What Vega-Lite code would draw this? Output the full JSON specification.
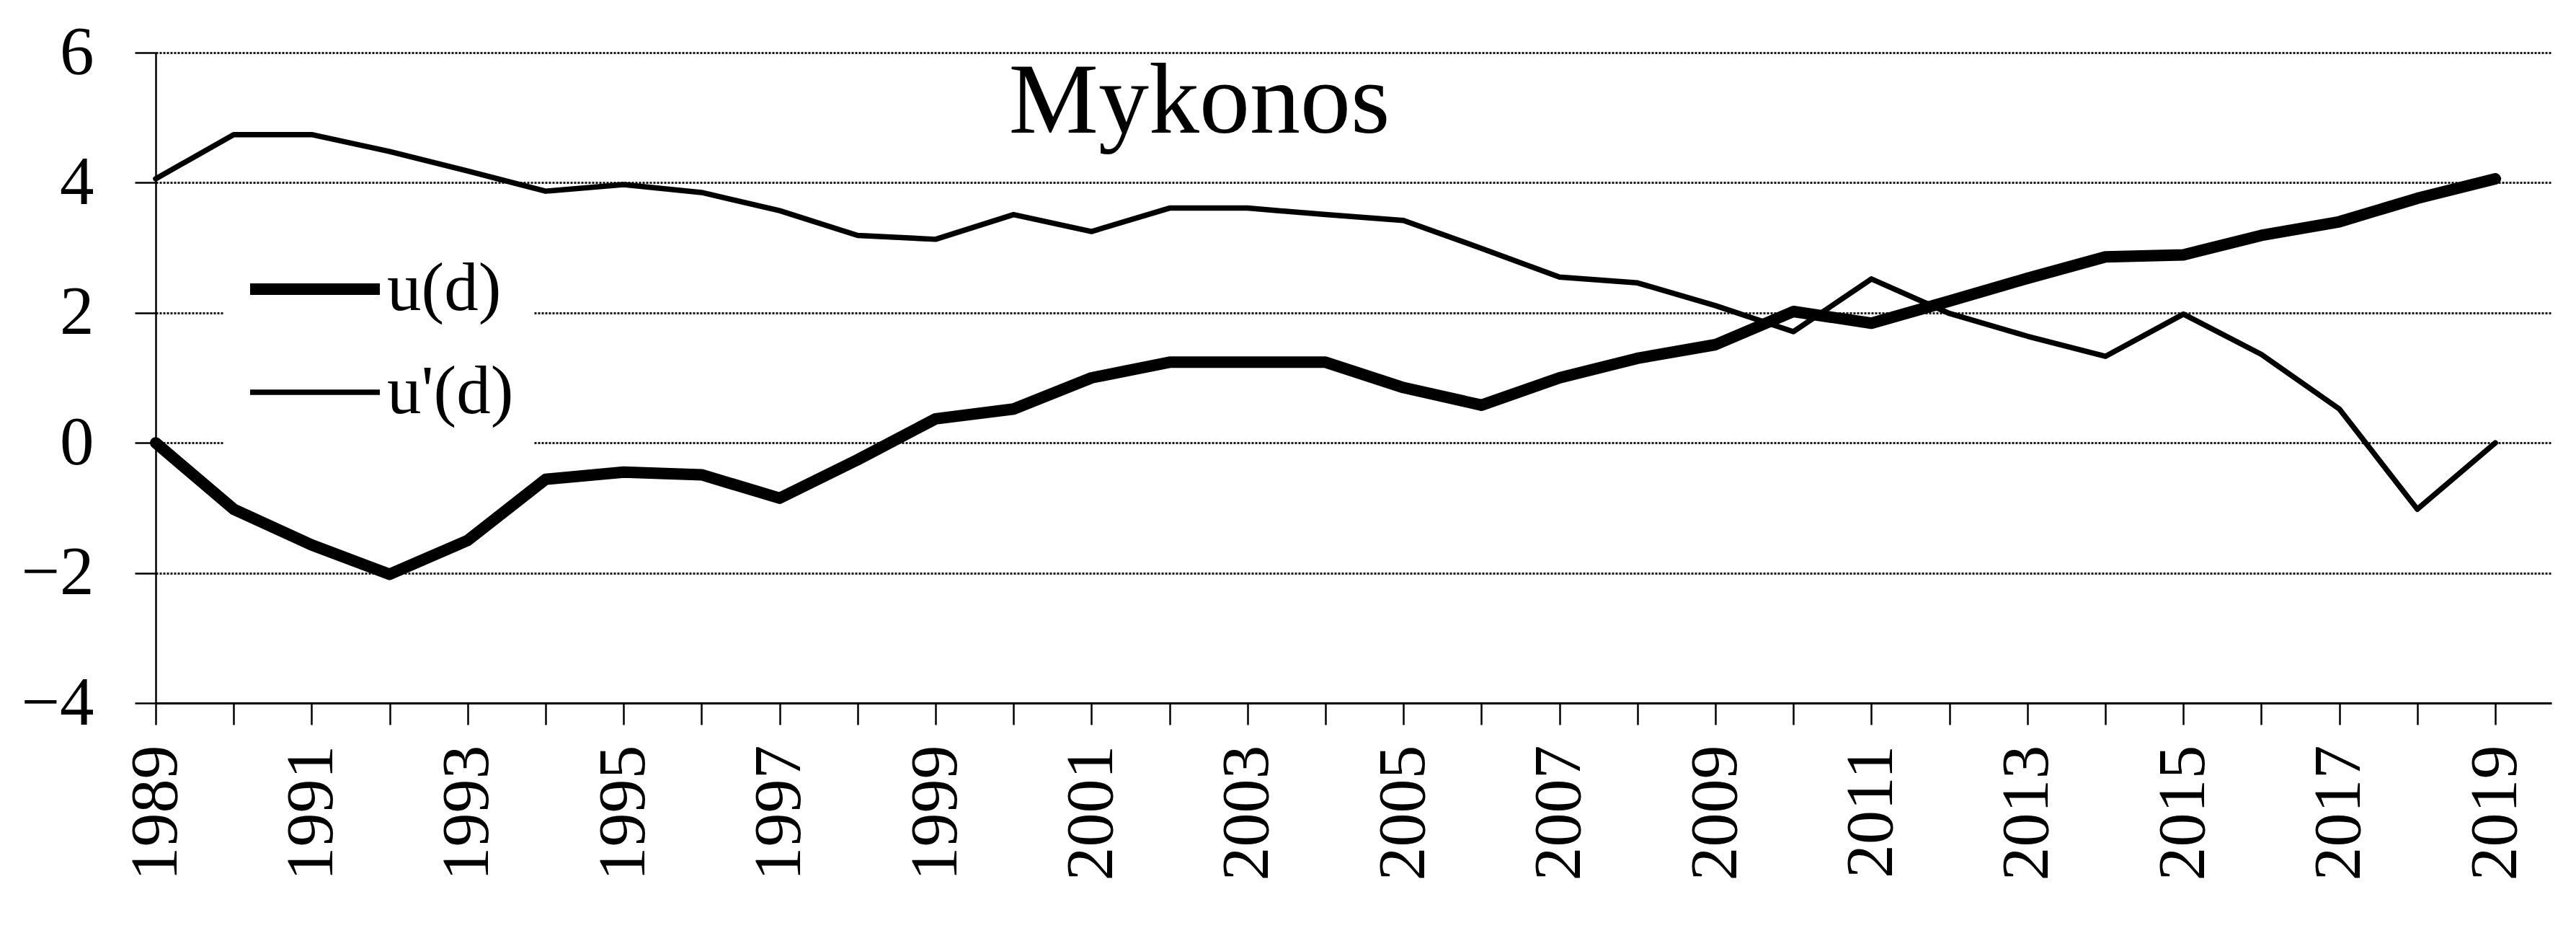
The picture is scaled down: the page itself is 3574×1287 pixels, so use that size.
{
  "$schema": "https://vega.github.io/schema/vega-lite/v6.json",
  "width": 3324,
  "height": 902,
  "autosize": {"type": "none"},
  "padding": {"left": 216, "top": 73, "right": 34, "bottom": 312},
  "background": "white",
  "title": {
    "text": "Mykonos",
    "font": "Liberation Serif",
    "fontSize": 140,
    "fontWeight": "normal",
    "color": "black",
    "anchor": "middle",
    "baseline": "alphabetic",
    "offset": 0,
    "dx": -214,
    "dy": 298
  },
  "config": {
    "view": {"stroke": null},
    "font": "Liberation Serif"
  },
  "data": {
    "values": [
      {"year": 1989, "series": "u(d)", "value": 0.0},
      {"year": 1990, "series": "u(d)", "value": -1.02},
      {"year": 1991, "series": "u(d)", "value": -1.57},
      {"year": 1992, "series": "u(d)", "value": -2.02},
      {"year": 1993, "series": "u(d)", "value": -1.5},
      {"year": 1994, "series": "u(d)", "value": -0.56},
      {"year": 1995, "series": "u(d)", "value": -0.45},
      {"year": 1996, "series": "u(d)", "value": -0.49},
      {"year": 1997, "series": "u(d)", "value": -0.85},
      {"year": 1998, "series": "u(d)", "value": -0.26},
      {"year": 1999, "series": "u(d)", "value": 0.37},
      {"year": 2000, "series": "u(d)", "value": 0.52},
      {"year": 2001, "series": "u(d)", "value": 1.0},
      {"year": 2002, "series": "u(d)", "value": 1.24},
      {"year": 2003, "series": "u(d)", "value": 1.24},
      {"year": 2004, "series": "u(d)", "value": 1.24},
      {"year": 2005, "series": "u(d)", "value": 0.85},
      {"year": 2006, "series": "u(d)", "value": 0.58},
      {"year": 2007, "series": "u(d)", "value": 1.0},
      {"year": 2008, "series": "u(d)", "value": 1.3},
      {"year": 2009, "series": "u(d)", "value": 1.51},
      {"year": 2010, "series": "u(d)", "value": 2.02},
      {"year": 2011, "series": "u(d)", "value": 1.84},
      {"year": 2012, "series": "u(d)", "value": 2.18},
      {"year": 2013, "series": "u(d)", "value": 2.53},
      {"year": 2014, "series": "u(d)", "value": 2.86},
      {"year": 2015, "series": "u(d)", "value": 2.89},
      {"year": 2016, "series": "u(d)", "value": 3.19},
      {"year": 2017, "series": "u(d)", "value": 3.4},
      {"year": 2018, "series": "u(d)", "value": 3.76},
      {"year": 2019, "series": "u(d)", "value": 4.06},
      {"year": 1989, "series": "u'(d)", "value": 4.06},
      {"year": 1990, "series": "u'(d)", "value": 4.74},
      {"year": 1991, "series": "u'(d)", "value": 4.74},
      {"year": 1992, "series": "u'(d)", "value": 4.48},
      {"year": 1993, "series": "u'(d)", "value": 4.18},
      {"year": 1994, "series": "u'(d)", "value": 3.87},
      {"year": 1995, "series": "u'(d)", "value": 3.97},
      {"year": 1996, "series": "u'(d)", "value": 3.85},
      {"year": 1997, "series": "u'(d)", "value": 3.57},
      {"year": 1998, "series": "u'(d)", "value": 3.19},
      {"year": 1999, "series": "u'(d)", "value": 3.13},
      {"year": 2000, "series": "u'(d)", "value": 3.51},
      {"year": 2001, "series": "u'(d)", "value": 3.25},
      {"year": 2002, "series": "u'(d)", "value": 3.61},
      {"year": 2003, "series": "u'(d)", "value": 3.61},
      {"year": 2004, "series": "u'(d)", "value": 3.51},
      {"year": 2005, "series": "u'(d)", "value": 3.42},
      {"year": 2006, "series": "u'(d)", "value": 2.99},
      {"year": 2007, "series": "u'(d)", "value": 2.55},
      {"year": 2008, "series": "u'(d)", "value": 2.46},
      {"year": 2009, "series": "u'(d)", "value": 2.11},
      {"year": 2010, "series": "u'(d)", "value": 1.71},
      {"year": 2011, "series": "u'(d)", "value": 2.52},
      {"year": 2012, "series": "u'(d)", "value": 1.99},
      {"year": 2013, "series": "u'(d)", "value": 1.64},
      {"year": 2014, "series": "u'(d)", "value": 1.33},
      {"year": 2015, "series": "u'(d)", "value": 1.98},
      {"year": 2016, "series": "u'(d)", "value": 1.36},
      {"year": 2017, "series": "u'(d)", "value": 0.52},
      {"year": 2018, "series": "u'(d)", "value": -1.02},
      {"year": 2019, "series": "u'(d)", "value": 0.0}
    ]
  },
  "mark": {"type": "line", "color": "black", "strokeJoin": "round", "strokeCap": "round", "clip": false},
  "encoding": {
    "x": {
      "field": "year",
      "type": "quantitative",
      "scale": {"domain": [1989, 2019.72], "nice": false, "zero": false},
      "axis": {
        "title": null,
        "values": [1989,1990,1991,1992,1993,1994,1995,1996,1997,1998,1999,2000,2001,2002,2003,2004,2005,2006,2007,2008,2009,2010,2011,2012,2013,2014,2015,2016,2017,2018,2019],
        "labelExpr": "datum.value % 2 == 1 ? format(datum.value, 'd') : ''",
        "labelAngle": -90,
        "labelAlign": "right",
        "labelBaseline": "middle",
        "labelFont": "Liberation Serif",
        "labelFontSize": 94,
        "labelColor": "black",
        "labelPadding": 28,
        "labelLimit": 0,
        "labelOverlap": false,
        "labelFlush": false,
        "grid": false,
        "tickSize": 30,
        "tickColor": "black",
        "tickWidth": 2.5,
        "domainColor": "black",
        "domainWidth": 3
      }
    },
    "y": {
      "field": "value",
      "type": "quantitative",
      "scale": {"domain": [-4, 6], "nice": false},
      "axis": {
        "title": null,
        "values": [-4, -2, 0, 2, 4, 6],
        "labelFont": "Liberation Serif",
        "labelFontSize": 95,
        "labelColor": "black",
        "labelPadding": 57,
        "labelLimit": 0,
        "labelFlush": false,
        "tickSize": 29,
        "tickColor": "black",
        "tickWidth": 2.5,
        "domainColor": "black",
        "domainWidth": 2.5,
        "grid": true,
        "gridColor": "#1a1a1a",
        "gridWidth": 3,
        "gridDash": [3, 2]
      }
    },
    "strokeWidth": {
      "field": "series",
      "type": "nominal",
      "scale": {"type": "ordinal", "domain": ["u(d)", "u'(d)"], "range": [16, 7.5]},
      "legend": {
        "title": null,
        "orient": "none",
        "legendX": 95,
        "legendY": 202,
        "fillColor": "white",
        "padding": 28,
        "symbolType": "stroke",
        "symbolSize": 32400,
        "symbolStrokeColor": "black",
        "labelFont": "Liberation Serif",
        "labelFontSize": 95,
        "labelColor": "black",
        "labelOffset": 2,
        "labelLimit": 0,
        "rowPadding": 1
      }
    }
  }
}
